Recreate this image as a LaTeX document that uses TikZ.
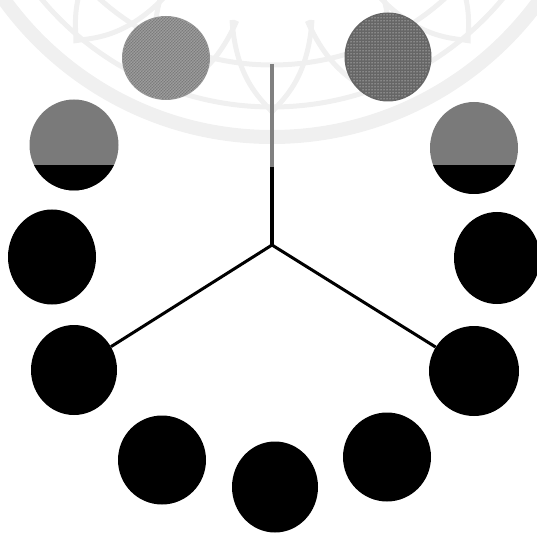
\documentclass[tikz,border=0pt]{standalone}
\usetikzlibrary{shapes.geometric,patterns}
\begin{document}
\begin{tikzpicture}[x=1pt,y=-1pt,
  dot/.style={ellipse,inner sep=0pt,fill=black},
  wm/.style={draw=black!6,line width=14pt},
  wmthin/.style={draw=black!6,line width=5pt},
  conn/.style={line width=3.4pt,black},
  connlight/.style={line width=3.4pt,black!50}]
\useasboundingbox (0,0) rectangle (537,534);
% faint watermark
\begin{scope}
\clip (0,0) rectangle (537,534);
\draw[wm] (272,-193) circle[radius=330];
\draw[wmthin] (272,-193) circle[radius=300];
\draw[wmthin] (272,-193) circle[radius=258];
\foreach \a in {-40,-20,0,20,40}{
  \draw[wmthin,rotate around={\a:(272,-193)}] (232,20) .. controls (236,80) and (262,100) .. (272,112) .. controls (282,100) and (308,80) .. (312,20);
}
\end{scope}
% top textured circles
\node[dot,fill=black!42,minimum width=88pt,minimum height=84pt] (t1) at (166,58) {};
\fill[pattern=crosshatch dots,pattern color=white] (166,58) ellipse[x radius=43,y radius=41];
\fill[pattern=north east lines,pattern color=black!55] (166,58) ellipse[x radius=43,y radius=41];
\node[dot,fill=black!60,minimum width=87pt,minimum height=89pt] (t2) at (388,57) {};
\fill[pattern=dots,pattern color=white] (388,57) ellipse[x radius=42,y radius=43];
% half grey / half black circles
\node[dot,fill=black!52,minimum width=89pt,minimum height=91pt] (h1) at (74,145) {};
\begin{scope}
\clip (0,166) rectangle (537,200);
\fill[black] (74,145) ellipse[x radius=44.5,y radius=45.5];
\end{scope}
\node[dot,fill=black!52,minimum width=88pt,minimum height=92pt] (h2) at (474,148) {};
\begin{scope}
\clip (0,166) rectangle (537,200);
\fill[black] (474,148) ellipse[x radius=44,y radius=46];
\end{scope}
% black circles
\node[dot,minimum width=88pt,minimum height=95pt] (l1) at (52,257) {};
\node[dot,minimum width=86pt,minimum height=92pt] (r1) at (497,258) {};
\node[dot,minimum width=86pt,minimum height=90pt] (l2) at (74,370) {};
\node[dot,minimum width=90pt,minimum height=90pt] (r2) at (474,371) {};
\node[dot,minimum width=88pt,minimum height=89pt] (b1) at (162,460) {};
\node[dot,minimum width=86pt,minimum height=91pt] (b2) at (275,487) {};
\node[dot,minimum width=88pt,minimum height=89pt] (b3) at (387,457) {};
% connectors
\coordinate (hub) at (272,245);
\coordinate (mid) at (272,167);
\coordinate (top) at (272,64);
\draw[connlight] (top) -- (mid);
\draw[conn] (mid) -- (hub);
\draw[conn,line width=3pt] (hub) -- (l2);
\draw[conn,line width=3pt] (hub) -- (r2);
\end{tikzpicture}
\end{document}
